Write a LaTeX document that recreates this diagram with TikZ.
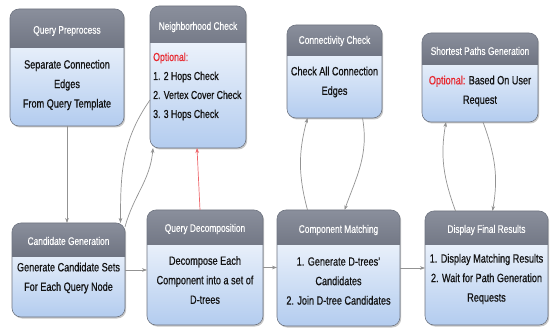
\documentclass[tikz,border=0pt]{standalone}
\usepackage{fontspec}
\setmainfont[FakeStretch=0.76]{Liberation Sans}
\usetikzlibrary{arrows.meta,shadows}
\definecolor{headtop}{HTML}{8A8F9C}
\definecolor{headbot}{HTML}{3E4352}
\definecolor{bodytop}{HTML}{FFFFFF}
\definecolor{bodybot}{HTML}{B3CCEF}
\definecolor{edgec}{HTML}{6E7480}
\definecolor{linkc}{HTML}{939393}
\definecolor{tipc}{HTML}{555555}
\definecolor{optred}{HTML}{E8262D}
\definecolor{txt}{HTML}{121212}
\begin{document}
\begin{tikzpicture}[x=1pt,y=-1pt,
 flow/.style={draw=edgec, line width=0.6pt, rounded corners=9pt, top color=bodytop, bottom color=bodybot,
   inner sep=0pt, outer sep=0pt, anchor=north west,
   drop shadow={shadow xshift=1.2pt, shadow yshift=-1.5pt, fill=black, opacity=0.22},
   path picture={\shade[sharp corners, top color=headtop, bottom color=headbot]
     (path picture bounding box.north west) rectangle ([yshift=-#1]path picture bounding box.north east);}},
 ttl/.style={text=white, font=\addfontfeatures{FakeBold=0.3}\fontsize{11}{13}\selectfont, inner sep=0pt},
 bdy/.style={text=txt, font=\addfontfeatures{FakeBold=0.6}\fontsize{12}{19.5}\selectfont, align=center, inner sep=0pt},
 link/.style={draw=linkc, line width=0.7pt, -{Stealth[length=5pt,width=3.6pt,fill=tipc]}},
 redlink/.style={draw=optred!70, line width=0.7pt, -{Stealth[length=5pt,width=3.6pt,fill=optred]}}
]
\fill[white] (0,0) rectangle (553,328);
\useasboundingbox (0,0) rectangle (553,328);

% boxes
\node[flow=39pt, minimum width=114pt, minimum height=117pt] (qp) at (10,9) {};
\node[flow=37pt, minimum width=96pt, minimum height=142pt] (nc) at (150,6) {};
\node[flow=31pt, minimum width=95pt, minimum height=93pt] (cc) at (287,25) {};
\node[flow=32pt, minimum width=116pt, minimum height=89pt] (sp) at (422,33) {};
\node[flow=33pt, minimum width=113pt, minimum height=94pt] (cg) at (12,223) {};
\node[flow=35pt, minimum width=116pt, minimum height=115pt] (qd) at (147,210) {};
\node[flow=35pt, minimum width=123pt, minimum height=116pt] (cm) at (277,210) {};
\node[flow=34pt, minimum width=123pt, minimum height=114pt] (df) at (425,211) {};

% titles
\node[ttl] (qpt) at (67,31) {Query Preprocess};
\node[ttl] (nct) at (198,27) {Neighborhood Check};
\node[ttl] (cct) at (334.5,41) {Connectivity Check};
\node[ttl] (spt) at (480,51) {Shortest Paths Generation};
\node[ttl] (cgt) at (68.5,241) {Candidate Generation};
\node[ttl] (qdt) at (205,229) {Query Decomposition};
\node[ttl] (cmt) at (338.5,230) {Component Matching};
\node[ttl] (dft) at (486.5,230) {Display Final Results};

% bodies
\node[bdy] (qpb) at (67,85) {Separate Connection\\Edges\\From Query Template};
\node[bdy, anchor=west, align=left, font=\addfontfeatures{FakeBold=0.6}\fontsize{11.5}{19}\selectfont] (ncb) at (153,86.5)
  {\textcolor{optred}{Optional:}\\1. 2 Hops Check\\2. Vertex Cover Check\\3. 3 Hops Check};
\node[bdy] (ccb) at (334.5,82) {Check All Connection\\Edges};
\node[bdy] (spb) at (480,91) {\textcolor{optred}{Optional:} Based On User\\Request};
\node[bdy] (cgb) at (68.5,278) {Generate Candidate Sets\\For Each Query Node};
\node[bdy] (qdb) at (205,280) {Decompose Each\\Component into a set of\\D-trees};
\node[bdy] (cmb) at (338.5,281) {1. Generate D-trees'\\Candidates\\2. Join D-tree Candidates};
\node[bdy] (dfb) at (486.5,279) {1. Display Matching Results\\2. Wait for Path Generation\\Requests};

% connectors
\draw[link] (qp.south) -- (qp.south |- cg.north);
\draw[link] ([yshift=-23pt]nc.west) to[out=235,in=90] ([xshift=52pt]cg.north);
\draw[link] ([yshift=-4pt]cg.north east) to[out=75,in=-95] ([xshift=3pt]nc.south west);
\draw[redlink] ([xshift=-5pt]qd.north) -- ([xshift=-1pt]nc.south);
\draw[link] (cg.east) -- (cg.east -| qd.west);
\draw[link] (qd.east) -- (qd.east -| cm.west);
\draw[link] (cm.east) -- (cm.east -| df.west);
\draw[link] ([xshift=-31pt]cm.north) to[out=105,in=-105] ([xshift=-27pt]cc.south);
\draw[link] ([xshift=28pt]cc.south) to[out=-80,in=70] ([xshift=6pt]cm.north);
\draw[link] ([xshift=-31pt]df.north) to[out=110,in=-100] ([xshift=-34pt]sp.south);
\draw[link] ([xshift=3pt]sp.south) to[out=-70,in=80] ([xshift=6pt]df.north);
\end{tikzpicture}
\end{document}
